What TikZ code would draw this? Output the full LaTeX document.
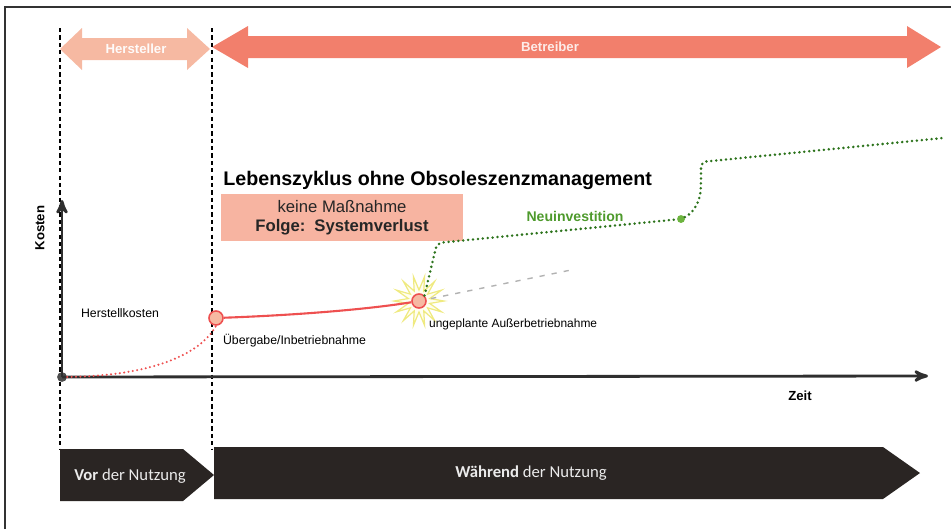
\documentclass[tikz,border=0pt]{standalone}
\usepackage{fontspec}
\setmainfont{Liberation Sans}
\newfontfamily\phasefont{Carlito}
\usetikzlibrary{positioning}
\usetikzlibrary{arrows}
\usetikzlibrary{calc}
\definecolor{hstcol}{HTML}{F6B9A2}
\definecolor{btrcol}{HTML}{F27F6C}
\definecolor{boxcol}{HTML}{F7B4A1}
\definecolor{redcol}{HTML}{EE5050}
\definecolor{greencol}{HTML}{2C731C}
\definecolor{greentxt}{HTML}{4E9A2C}
\definecolor{dotgreen}{HTML}{6DB43F}
\definecolor{phasecol}{HTML}{2A2523}
\definecolor{starcol}{HTML}{EFEA80}
\definecolor{axiscol}{HTML}{2F2F2F}
\tikzset{ed/.style={inner sep=1pt,font=\fontsize{7}{8}\selectfont}}
\tikzset{edb/.style={ed,font=\fontsize{7.5}{9}\selectfont\bfseries}}
\tikzset{rolelbl/.style={inner sep=1pt,font=\fontsize{7.5}{9}\selectfont\bfseries}}
\tikzset{phaselbl/.style={inner sep=1pt,text=white!92!black,font=\phasefont\fontsize{9.5}{11}\selectfont}}
\tikzset{sep/.style={line width=0.8pt,dash pattern=on 2.4pt off 1.8pt}}
\tikzset{axis/.style={line width=1.6pt,draw=axiscol}}
\tikzset{event/.style={circle,draw=redcol,fill=hstcol,line width=0.9pt,minimum size=8pt,inner sep=0pt}}
\tikzset{reddots/.style={draw=redcol,line width=1.3pt,line cap=round,dash pattern=on 0pt off 2.5pt}}
\tikzset{greendots/.style={draw=greencol,line width=1.6pt,line cap=round,dash pattern=on 0pt off 2.8pt,rounded corners=3pt}}
\tikzset{graydash/.style={draw=gray!60,line width=0.8pt,dash pattern=on 3pt off 4pt}}

\begin{document}
\begin{tikzpicture}[x=0.02cm, y=-0.02cm, >=stealth']
        \useasboundingbox (0,0) rectangle (951,529);
        \draw[line width=0.9pt, draw=gray!40!black] (5,529) -- (5,7) -- (951,7);
        \fill[hstcol] (60,49) -- (82,28) -- (82,38) -- (187,38) -- (187,28) -- (210,49)
            -- (187,70) -- (187,60) -- (82,60) -- (82,70) -- cycle;
        \fill[btrcol] (212,47) -- (248,26) -- (248,36) -- (907,36) -- (907,26) -- (941,47)
            -- (907,68) -- (907,58) -- (248,58) -- (248,68) -- cycle;
        \node[rolelbl, text=white!95!hstcol] (hst) at (136,49) {Hersteller};
        \node[rolelbl, text=white!85!btrcol] (btr) at (550,47) {Betreiber};
        \coordinate (v1t) at (60,28);
        \coordinate (v1b) at (60,449);
        \coordinate (v2t) at (212,28);
        \coordinate (v2b) at (212,449);
        \draw[sep] (v1t) -- (v1b);
        \draw[sep] (v2t) -- (v2b);
        \fill[phasecol] (60,449) -- (183,449) -- (214,475) -- (183,501) -- (60,501) -- cycle;
        \fill[phasecol] (214,447) -- (883,447) -- (920,473) -- (883,499) -- (214,499) -- cycle;
        \node[phaselbl] (vor) at (130,476) {\textbf{Vor} der Nutzung};
        \node[phaselbl] (nutz) at (531,473) {\textbf{Während} der Nutzung};
        \node[inner sep=0pt, anchor=west, font=\fontsize{11.2}{13}\selectfont\bfseries] (title) at (223,180)
            {Lebenszyklus ohne Obsoleszenzmanagement};
        \node[fill=boxcol, minimum width=138pt, minimum height=26.6pt, inner sep=0pt, align=center,
            font=\fontsize{9.5}{11}\selectfont, text=black!85] (mbox) at (342,217.5)
            {keine Maßnahme\\\textbf{Folge:\, Systemverlust}};
        \node[circle, fill=axiscol!85, minimum size=5.6pt, inner sep=0pt] (O) at (62,377) {};
        \coordinate (ytop) at (62,200);
        \coordinate (xend) at (928,376);
        \draw[axis,->] (O.center) -- (ytop);
        \draw[axis,->] (O.center) -- (xend);
        \node[edb, rotate=90] (kosten) at (40,228) {Kosten};
        \node[edb] (zeit) at (800,396) {Zeit};
        \coordinate (burst) at (419,301);
        \draw[draw=starcol, fill=yellow!6, line width=0.7pt]
            plot[samples=29, domain=0:28, variable=\k]
            ({419+(11+14*mod(round(\k)+1,2))*cos(\k*360/28)}, {301+(11+14*mod(round(\k)+1,2))*sin(\k*360/28)}) -- cycle;
        \coordinate (gray) at (571,270);
        \draw[graydash] (burst) -- (gray);
        \node[event] (c1) at (216,318) {};
        \node[event] (c2) at (burst) {};
        \draw[reddots] (O) .. controls (150,376) and (200,355) .. (c1.south);
        \draw[redcol, line width=1.2pt] (c1) .. controls (300,315) and (370,309) .. (c2);
        \node[circle, fill=dotgreen, minimum size=4.5pt, inner sep=0pt] (d1) at (681,219) {};
        \coordinate (gend) at (943,138);
        \draw[greendots] (c2.north east) -- (437,243) -- (d1);
        \draw[greendots] (d1) .. controls (695,212) and (700,200) .. (701,185) -- (701,162) -- (gend);
        \node[edb, font=\fontsize{8}{9.5}\selectfont\bfseries, text=greentxt] (neu) at (575,216) {Neuinvestition};
        \node[ed] (hk) at (120,313) {Herstellkosten};
        \node[ed, anchor=west] (ueb) at (221,341) {Übergabe/Inbetriebnahme};
        \node[ed, anchor=west, font=\fontsize{6.8}{8}\selectfont] (ausser) at (427,324) {ungeplante Außerbetriebnahme};
\end{tikzpicture}
\end{document}
